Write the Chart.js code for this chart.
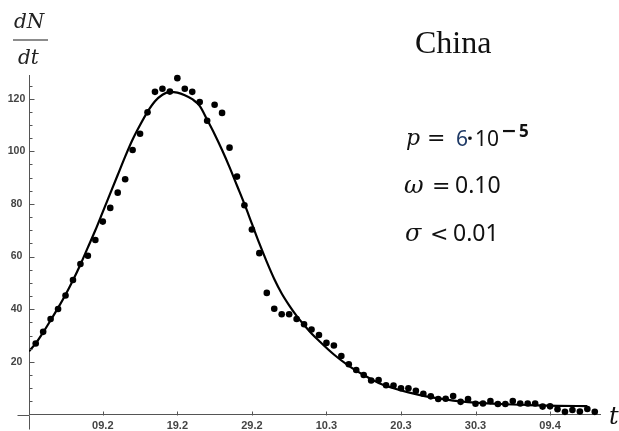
<!DOCTYPE html>
<html>
<head>
<meta charset="utf-8">
<title>China dN/dt</title>
<script src="https://cdn.jsdelivr.net/npm/chart.js@4.4.0/dist/chart.umd.min.js"></script>
<style>
  html, body { margin: 0; padding: 0; background: #fff; }
  #wrap { width: 619px; height: 431px; position: relative; }
</style>
</head>
<body>
<div id="wrap"><canvas id="myChart"></canvas></div>
<script>
// daily new cases, first point = day 0 (31.1)
const caseValues = [27, 31.4, 36.3, 40.1, 45.2, 51.1, 57.2, 60.3, 66.3, 73.3,
  78.5, 84.3, 89.4, 100.5, 106.7, 114.8, 122.6, 123.8, 122.7, 127.8,
  123.8, 122.6, 118.7, 111.6, 117.7, 114.6, 101.4, 90.4, 79.5, 70.3,
  61.3, 46.2, 40.2, 38.1, 38.1, 36.3, 34.3, 32.3, 30.2, 27.2,
  26.2, 22.2, 19.1, 16.9, 15, 12.9, 13.1, 11.1, 11, 10,
  10, 9, 7.9, 6.9, 5.9, 6, 7, 4.8, 5.9, 4.1,
  4.2, 5.1, 4, 4, 5.1, 4.2, 4.2, 4.2, 3, 3.1,
  2, 1, 1.7, 1.1, 2.1, 1];

// model curve
const curveDays = [-0.9, 0, 1, 2, 3, 4, 5, 6, 7, 8, 9, 10, 11, 12, 13, 14, 15, 16, 17, 18,
  19, 20, 21, 22, 23, 24, 25, 26, 27, 28, 29, 30, 31, 32, 33, 34, 35, 36, 37, 38,
  40, 42, 44, 46, 48, 50, 52, 54, 56, 58, 60, 63, 66, 70, 74];
const curveValues = [24, 27, 31.2, 35.8, 40.5, 45.5, 51, 57, 63.5, 70, 77, 84, 91, 98, 104.5, 110, 115, 119, 121.5, 122.6,
  122.3, 121.3, 119.8, 117.3, 112, 106.5, 100.5, 94, 87, 80, 72.5, 65, 58, 51.5, 46, 41.5, 37.5, 34, 30.8, 28,
  22.8, 18.5, 15, 12, 10, 8.4, 7.1, 6.1, 5.3, 4.7, 4.3, 3.9, 3.6, 3.3, 3.2];

const tickDays = [9, 19, 29, 39, 49, 59, 69];
const tickLabels = ['09.2', '19.2', '29.2', '10.3', '20.3', '30.3', '09.4'];
const yTicks = [20, 40, 60, 80, 100, 120];

const axisColor = '#555';

// inward tick marks + axis stubs, Mathematica style
const tickMarks = {
  id: 'tickMarks',
  afterDraw(chart) {
    const {ctx, chartArea, scales: {x, y}} = chart;
    ctx.save();
    ctx.strokeStyle = axisColor;
    ctx.lineWidth = 1;
    ctx.beginPath();
    const left = Math.round(chartArea.left) + 0.5;
    const bottom = Math.round(chartArea.bottom) + 0.5;
    for (let v = 5; v <= y.max; v += 5) {
      const py = Math.round(y.getPixelForValue(v)) + 0.5;
      ctx.moveTo(left, py);
      ctx.lineTo(left + (v % 20 === 0 ? 5 : 3), py);
    }
    x.ticks.forEach(t => {
      const px = Math.round(x.getPixelForValue(t.value)) + 0.5;
      ctx.moveTo(px, bottom);
      ctx.lineTo(px, bottom - 4);
    });
    ctx.moveTo(left - 12, bottom);
    ctx.lineTo(left, bottom);
    ctx.moveTo(left, bottom);
    ctx.lineTo(left, bottom + 14);
    ctx.stroke();
    ctx.restore();
  }
};

// labels and formulas
const texts = {
  id: 'texts',
  afterDraw(chart) {
    const ctx = chart.ctx;
    ctx.save();
    ctx.textAlign = 'left';
    ctx.textBaseline = 'alphabetic';
    const it = "italic 20px 'DejaVu Serif'";
    ctx.fillStyle = '#222';
    ctx.font = it;
    ctx.fillText('dN', 14, 28);
    ctx.fillText('dt', 18, 64);
    ctx.strokeStyle = '#666';
    ctx.lineWidth = 1.5;
    ctx.beginPath();
    ctx.moveTo(13, 40);
    ctx.lineTo(48, 40);
    ctx.stroke();

    ctx.fillStyle = '#111';
    ctx.font = "32px 'Liberation Serif'";
    ctx.fillText('China', 415, 53);

    ctx.font = "italic 24px 'DejaVu Serif'";
    ctx.fillText('t', 609, 424);

    const op = "22px 'DejaVu Sans'";
    const num = "23px 'Noto Sans'";
    // p = 6 · 10^-5
    ctx.font = "italic 22px 'DejaVu Serif'";
    ctx.fillText('p', 406, 145);
    ctx.font = op;
    ctx.fillText('=', 427, 145);
    ctx.font = "21px 'Noto Sans'";
    ctx.fillStyle = '#1f3a66';
    ctx.fillText('6', 456, 145.5);
    ctx.fillStyle = '#111';
    ctx.font = "bold 21px 'Noto Sans'";
    ctx.fillText('\u00b7', 467, 145.5);
    ctx.font = "21px 'Noto Sans'";
    ctx.fillText('10', 475, 145.5);
    ctx.font = "bold 19px 'DejaVu Sans'";
    ctx.fillText('\u2212', 501, 137);
    ctx.font = "bold 17px 'Noto Sans'";
    ctx.fillText('5', 519, 137);
    // omega
    ctx.font = "italic 24px 'DejaVu Serif'";
    ctx.fillText('\u03c9', 404, 193);
    ctx.font = op;
    ctx.fillText('=', 432, 193);
    ctx.font = num;
    ctx.fillText('0.10', 455, 193);
    // sigma
    ctx.font = "italic 24px 'DejaVu Serif'";
    ctx.fillText('\u03c3', 405, 241);
    ctx.font = op;
    ctx.fillText('<', 430, 241);
    ctx.font = num;
    ctx.fillText('0.01', 453, 241);
    ctx.restore();
  }
};

const ctx = document.getElementById('myChart').getContext('2d');
const chart = new Chart(ctx, {
  type: 'scatter',
  data: {
    datasets: [
      {
        label: 'model',
        data: curveDays.map((d, i) => ({x: d, y: curveValues[i]})),
        showLine: true,
        borderColor: '#000',
        borderWidth: 2.2,
        pointRadius: 0,
        cubicInterpolationMode: 'monotone',
        order: 2
      },
      {
        label: 'China',
        data: caseValues.map((v, i) => ({x: i, y: v})),
        backgroundColor: '#000',
        borderWidth: 0,
        pointRadius: 3.3,
        clip: false,
        order: 1
      }
    ]
  },
  options: {
    responsive: true,
    maintainAspectRatio: false,
    animation: false,
    layout: { padding: { top: 75, right: 19, left: 0, bottom: 0 } },
    plugins: {
      legend: { display: false },
      tooltip: { enabled: false }
    },
    scales: {
      x: {
        type: 'linear',
        min: -0.9,
        max: 75.7,
        grid: { display: false, drawTicks: false },
        border: { color: axisColor, width: 1 },
        afterBuildTicks: (scale) => { scale.ticks = tickDays.map(v => ({value: v})); },
        afterFit: (scale) => { scale.height = 16.5; },
        ticks: {
          autoSkip: false,
          maxRotation: 0,
          padding: 4.5,
          color: '#444',
          font: { family: 'Liberation Sans', size: 11, weight: 'bold' },
          callback: (v) => tickLabels[tickDays.indexOf(v)]
        }
      },
      y: {
        min: 0,
        max: 129,
        grid: { display: false, drawTicks: false },
        border: { color: axisColor, width: 1 },
        afterBuildTicks: (scale) => { scale.ticks = yTicks.map(v => ({value: v})); },
        afterFit: (scale) => { scale.width = 29; },
        ticks: {
          crossAlign: 'center',
          padding: 3.7,
          color: '#444',
          font: { family: 'Liberation Sans', size: 10.5, weight: 'bold' }
        }
      }
    }
  },
  plugins: [tickMarks, texts]
});
</script>
</body>
</html>
